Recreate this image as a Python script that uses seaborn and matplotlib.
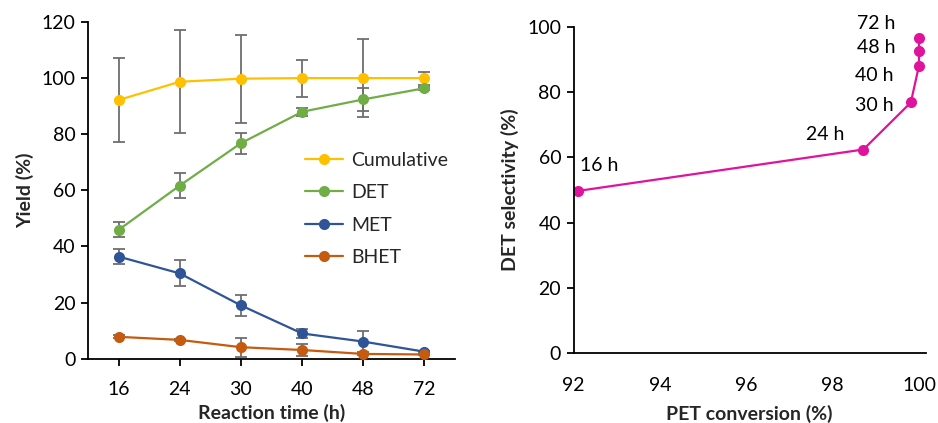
import matplotlib
matplotlib.use("Agg")
import matplotlib.pyplot as plt
import seaborn as sns
import pandas as pd
import numpy as np

# ---- data ----
times = ["16", "24", "30", "40", "48", "72"]
cumulative = [92.2, 98.7, 99.8, 100.0, 100.0, 100.0]
cumulative_err = [15.0, 18.4, 15.7, 6.6, 14.0, 2.3]
det = [45.9, 61.7, 76.8, 88.0, 92.4, 96.4]
det_err = [2.7, 4.4, 3.7, 1.5, 4.0, 0.5]
met = [36.4, 30.4, 19.0, 9.0, 6.1, 2.5]
met_err = [2.6, 4.6, 3.7, 1.5, 3.7, 0.3]
bhet = [7.8, 6.7, 4.1, 3.1, 1.7, 1.5]
bhet_err = [0.5, 0.5, 3.4, 2.3, 0.5, 0.3]

conversion = [92.09, 98.71, 99.81, 100.0, 100.0, 100.0]
selectivity = [49.7, 62.4, 76.8, 88.1, 92.5, 96.5]
point_labels = ["16 h", "24 h", "30 h", "40 h", "48 h", "72 h"]

series_names = ["Cumulative", "DET", "MET", "BHET"]
series_vals = [cumulative, det, met, bhet]
series_errs = [cumulative_err, det_err, met_err, bhet_err]
series_colors = ["#FFC000", "#70AD47", "#2F5597", "#C55A11"]
magenta = "#E0139C"

sns.set_theme(style="white")
plt.rcParams["font.family"] = ["Lato", "DejaVu Sans"]

FS = 14

fig = plt.figure(figsize=(9.38, 4.23), dpi=100)
ax1 = fig.add_axes([0.0938, 0.152, 0.3913, 0.796])
ax2 = fig.add_axes([0.6116, 0.1648, 0.3753, 0.772])

# ---- left chart ----
rows = []
for name, vals in zip(series_names, series_vals):
    for t, v in zip(times, vals):
        rows.append({"time": t, "value": v, "series": name})
df = pd.DataFrame(rows)

for name, vals, errs, col in zip(series_names, series_vals, series_errs, series_colors):
    ax1.errorbar(times, vals, yerr=errs, fmt="none", ecolor="#6E6E6E",
                 elinewidth=1.3, capsize=4, capthick=1.3, zorder=2)

sns.lineplot(data=df, x="time", y="value", hue="series", hue_order=series_names,
             palette=series_colors, marker="o", markersize=8, markeredgewidth=0,
             linewidth=1.6, ax=ax1, zorder=3, sort=False, estimator=None, errorbar=None)

ax1.set_xlim(-0.5, 5.5)
ax1.set_ylim(0, 120)
ax1.set_yticks(range(0, 121, 20))
ax1.set_xlabel("Reaction time (h)", fontsize=FS, fontweight="bold", labelpad=4)
ax1.set_ylabel("Yield (%)", fontsize=FS, fontweight="bold", labelpad=5)
ax1.tick_params(axis="both", labelsize=FS, colors="#000000", length=5, width=1.3,
                direction="out", bottom=True, left=True, pad=4)
ax1.tick_params(axis="x", pad=11)
for s in ["top", "right"]:
    ax1.spines[s].set_visible(False)
for s in ["left", "bottom"]:
    ax1.spines[s].set_color("#000000")
    ax1.spines[s].set_linewidth(1.3)

leg = ax1.legend(loc="upper left", bbox_to_anchor=(0.59, 0.615), frameon=False,
                 fontsize=FS, handlelength=2.0, handletextpad=0.4, labelspacing=0.8,
                 borderaxespad=0, borderpad=0)
for h in leg.get_lines():
    h.set_linewidth(1.6)
    h.set_markersize(8)

# ---- right chart ----
df2 = pd.DataFrame({"conversion": conversion, "selectivity": selectivity})
sns.lineplot(data=df2, x="conversion", y="selectivity", color=magenta, marker="o",
             markersize=8, markeredgewidth=0, linewidth=1.6, sort=False,
             estimator=None, errorbar=None, ax=ax2)

offsets = [(2, 25, "left"), (-19, 15, "right"), (-17, -3, "right"),
           (-26, -10, "right"), (-24, 4, "right"), (-24, 15, "right")]
for x, y, lab, (dx, dy, ha) in zip(conversion, selectivity, point_labels, offsets):
    ax2.annotate(lab, (x, y), xytext=(dx, dy), textcoords="offset pixels",
                 ha=ha, va="center", fontsize=FS, color="#000000")

ax2.set_xlim(92, 100.155)
ax2.set_ylim(0, 100)
ax2.set_xticks([92, 94, 96, 98, 100])
ax2.set_yticks(range(0, 101, 20))
ax2.set_xlabel("PET conversion (%)", fontsize=FS, fontweight="bold", labelpad=8)
ax2.set_ylabel("DET selectivity (%)", fontsize=FS, fontweight="bold", labelpad=6)
ax2.tick_params(axis="both", labelsize=FS, colors="#000000", width=1.3,
                direction="out", pad=4)
ax2.tick_params(axis="x", length=0, pad=17)
ax2.tick_params(axis="y", length=5, left=True)
for s in ["top", "right"]:
    ax2.spines[s].set_visible(False)
for s in ["left", "bottom"]:
    ax2.spines[s].set_color("#000000")
    ax2.spines[s].set_linewidth(1.3)

fig.savefig("out.png", dpi=100)
